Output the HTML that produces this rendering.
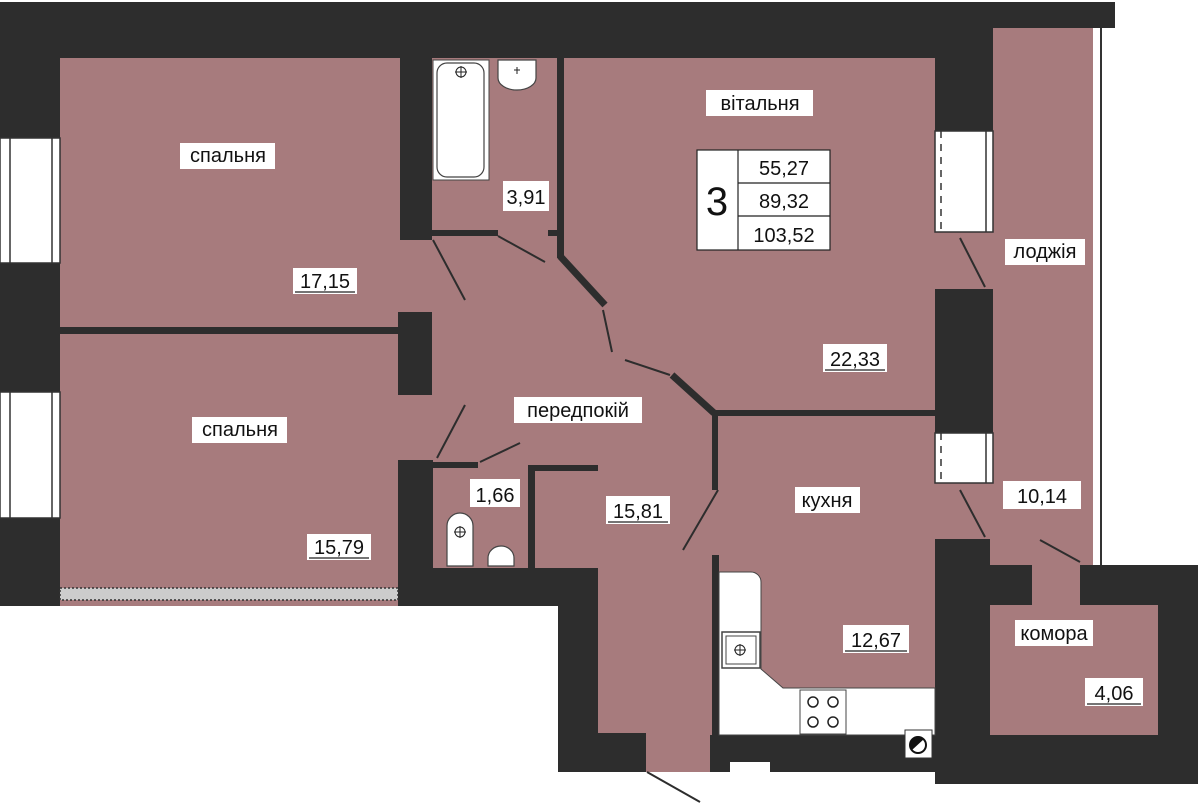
<!DOCTYPE html>
<html><head><meta charset="utf-8"><style>
html,body{margin:0;padding:0;background:#fff;width:1200px;height:805px;overflow:hidden}
text{font-family:"Liberation Sans",sans-serif;font-size:20px;fill:#111}
</style></head><body>
<svg width="1200" height="805" viewBox="0 0 1200 805" xmlns="http://www.w3.org/2000/svg">
<rect x="0" y="0" width="1200" height="805" fill="#fff"/>
<!-- mauve interior -->
<rect x="60" y="28" width="1033" height="744" fill="#a77b7d"/>
<rect x="0" y="606" width="558" height="199" fill="#fff"/>
<rect x="1093" y="28" width="107" height="537" fill="#fff"/>
<rect x="990" y="565" width="170" height="172" fill="#a77b7d"/>
<line x1="1101" y1="28" x2="1101" y2="565" stroke="#333" stroke-width="2"/>
<!-- dark walls -->
<g fill="#2d2d2d">
<rect x="0" y="2" width="935" height="56"/>
<rect x="935" y="2" width="180" height="26"/>
<rect x="0" y="2" width="60" height="604"/>
<rect x="400" y="28" width="32" height="212"/>
<rect x="398" y="312" width="34" height="83"/>
<rect x="398" y="460" width="35" height="146"/>
<rect x="398" y="568" width="200" height="38"/>
<rect x="558" y="568" width="40" height="204"/>
<rect x="558" y="733" width="88" height="39"/>
<rect x="935" y="28" width="58" height="103"/>
<rect x="935" y="289" width="58" height="144"/>
<rect x="935" y="539" width="55" height="245"/>
<rect x="990" y="565" width="42" height="40"/>
<rect x="1080" y="565" width="118" height="40"/>
<rect x="1158" y="565" width="40" height="219"/>
<rect x="935" y="735" width="263" height="49"/>
<rect x="710" y="735" width="225" height="37"/>
<rect x="60" y="327" width="340" height="7"/>
<rect x="432" y="230" width="66" height="6"/>
<rect x="548" y="230" width="9" height="6"/>
<rect x="557" y="58" width="7" height="200"/>
<rect x="432" y="462" width="46" height="6"/>
<rect x="528" y="465" width="7" height="103"/>
<rect x="528" y="465" width="70" height="6"/>
<rect x="712" y="410" width="223" height="6"/>
<rect x="712" y="413" width="6" height="77"/>
<rect x="712" y="555" width="7" height="180"/>
</g>
<rect x="730" y="762" width="40" height="10" fill="#fff"/>
<!-- diagonal walls -->
<line x1="560" y1="256" x2="605" y2="305" stroke="#2d2d2d" stroke-width="7"/>
<line x1="672" y1="375" x2="714" y2="413" stroke="#2d2d2d" stroke-width="7"/>
<!-- door lines -->
<g stroke="#2d2d2d" stroke-width="2">
<line x1="603" y1="310" x2="612" y2="352"/>
<line x1="625" y1="360" x2="670" y2="375"/>
<line x1="498" y1="236" x2="545" y2="262"/>
<line x1="433" y1="240" x2="465" y2="300"/>
<line x1="465" y1="405" x2="437" y2="458"/>
<line x1="480" y1="462" x2="520" y2="443"/>
<line x1="718" y1="490" x2="683" y2="550"/>
<line x1="647" y1="772" x2="700" y2="802"/>
<line x1="960" y1="238" x2="985" y2="287"/>
<line x1="960" y1="490" x2="985" y2="537"/>
<line x1="1040" y1="540" x2="1080" y2="562"/>
</g>
<!-- windows -->
<g fill="#fff" stroke="#333" stroke-width="1.5">
<rect x="0" y="138" width="60" height="125"/>
<rect x="0" y="392" width="60" height="126"/>
<rect x="935" y="131" width="58" height="101"/>
<rect x="935" y="433" width="58" height="50"/>
</g>
<g stroke="#333" stroke-width="1.5">
<line x1="10" y1="138" x2="10" y2="263"/><line x1="52" y1="138" x2="52" y2="263"/>
<line x1="10" y1="392" x2="10" y2="518"/><line x1="52" y1="392" x2="52" y2="518"/>
<line x1="986" y1="131" x2="986" y2="232"/><line x1="986" y1="433" x2="986" y2="483"/>
<line x1="941" y1="131" x2="941" y2="232" stroke-dasharray="7,6"/>
<line x1="941" y1="433" x2="941" y2="483" stroke-dasharray="7,6"/>
</g>
<rect x="60" y="588" width="338" height="12" fill="#ccc" stroke="#333" stroke-width="1.5" stroke-dasharray="2,2"/>
<!-- bath fixtures -->
<rect x="433" y="60" width="56" height="120" fill="#fff" stroke="#444" stroke-width="1"/>
<rect x="437" y="63" width="47" height="114" rx="10" fill="#fff" stroke="#444" stroke-width="1.2"/>
<circle cx="461" cy="72" r="5" fill="none" stroke="#222"/><path d="M455 72h12M461 66v12" stroke="#222"/>
<path d="M498 60h38v18a19 12 0 0 1 -38 0z" fill="#fff" stroke="#444" stroke-width="1.2"/>
<path d="M517 67v7M514 70h6" stroke="#222"/>
<!-- toilet fixtures -->
<path d="M447 566v-40a13 13 0 0 1 26 0v40z" fill="#fff" stroke="#444" stroke-width="1.2"/>
<circle cx="460" cy="532" r="5" fill="none" stroke="#222"/><path d="M454 532h12M460 526v12" stroke="#222"/>
<path d="M488 566v-8a13 12 0 0 1 26 0v8z" fill="#fff" stroke="#444" stroke-width="1.2"/>
<!-- kitchen -->
<path d="M719 572h32a10 10 0 0 1 10 10v87l22 19h152v47h-216z" fill="#fff" stroke="#444" stroke-width="1"/>
<rect x="722" y="632" width="38" height="36" fill="#fff" stroke="#444" stroke-width="1.5"/>
<rect x="726" y="636" width="30" height="28" fill="none" stroke="#444" stroke-width="1"/>
<circle cx="740" cy="650" r="5" fill="none" stroke="#222"/><path d="M734 650h12M740 644v12" stroke="#222"/>
<rect x="800" y="690" width="46" height="44" fill="#fff" stroke="#444"/>
<g fill="none" stroke="#222" stroke-width="1.5">
<circle cx="813" cy="702" r="5"/><circle cx="833" cy="702" r="5"/><circle cx="813" cy="722" r="5"/><circle cx="833" cy="722" r="5"/>
</g>
<rect x="905" y="730" width="27" height="28" fill="#fff" stroke="#333"/>
<circle cx="918" cy="745" r="8" fill="#fff" stroke="#111" stroke-width="2"/>
<path d="M912 750a8 8 0 0 1 12 -11z" fill="#111"/>
<!-- labels -->
<g fill="#fff">
<rect x="180" y="143" width="95" height="26"/>
<rect x="293" y="268" width="64" height="26"/>
<rect x="192" y="417" width="95" height="26"/>
<rect x="307" y="534" width="64" height="26"/>
<rect x="706" y="90" width="107" height="26"/>
<rect x="503" y="181" width="46" height="30"/>
<rect x="1005" y="239" width="80" height="26"/>
<rect x="823" y="344" width="64" height="28"/>
<rect x="514" y="397" width="128" height="26"/>
<rect x="470" y="479" width="50" height="28"/>
<rect x="606" y="496" width="64" height="28"/>
<rect x="795" y="487" width="65" height="26"/>
<rect x="1003" y="481" width="78" height="28"/>
<rect x="843" y="625" width="66" height="28"/>
<rect x="1015" y="620" width="78" height="26"/>
<rect x="1085" y="678" width="58" height="28"/>
<rect x="697" y="150" width="133" height="100"/>
</g>
<g stroke="#222" stroke-width="1.2" fill="none">
<rect x="697" y="150" width="133" height="100"/>
<line x1="738" y1="150" x2="738" y2="250"/>
<line x1="738" y1="183" x2="830" y2="183"/>
<line x1="738" y1="216" x2="830" y2="216"/>
<line x1="295" y1="292" x2="355" y2="292"/>
<line x1="309" y1="558" x2="369" y2="558"/>
<line x1="825" y1="370" x2="885" y2="370"/>
<line x1="608" y1="522" x2="668" y2="522"/>
<line x1="845" y1="651" x2="907" y2="651"/>
<line x1="1087" y1="704" x2="1141" y2="704"/>
</g>
<text x="228" y="162" text-anchor="middle">спальня</text>
<text x="325" y="288" text-anchor="middle">17,15</text>
<text x="240" y="436" text-anchor="middle">спальня</text>
<text x="339" y="554" text-anchor="middle">15,79</text>
<text x="760" y="110" text-anchor="middle">вiтальня</text>
<text x="526" y="204" text-anchor="middle">3,91</text>
<text x="1045" y="258" text-anchor="middle">лоджія</text>
<text x="855" y="366" text-anchor="middle">22,33</text>
<text x="578" y="417" text-anchor="middle">передпокій</text>
<text x="495" y="502" text-anchor="middle">1,66</text>
<text x="638" y="518" text-anchor="middle">15,81</text>
<text x="827" y="507" text-anchor="middle">кухня</text>
<text x="1042" y="503" text-anchor="middle">10,14</text>
<text x="876" y="647" text-anchor="middle">12,67</text>
<text x="1054" y="640" text-anchor="middle">комора</text>
<text x="1114" y="700" text-anchor="middle">4,06</text>
<text x="717" y="215" text-anchor="middle" style="font-size:40px">3</text>
<text x="784" y="175" text-anchor="middle">55,27</text>
<text x="784" y="208" text-anchor="middle">89,32</text>
<text x="784" y="242" text-anchor="middle">103,52</text>
</svg>
</body></html>
